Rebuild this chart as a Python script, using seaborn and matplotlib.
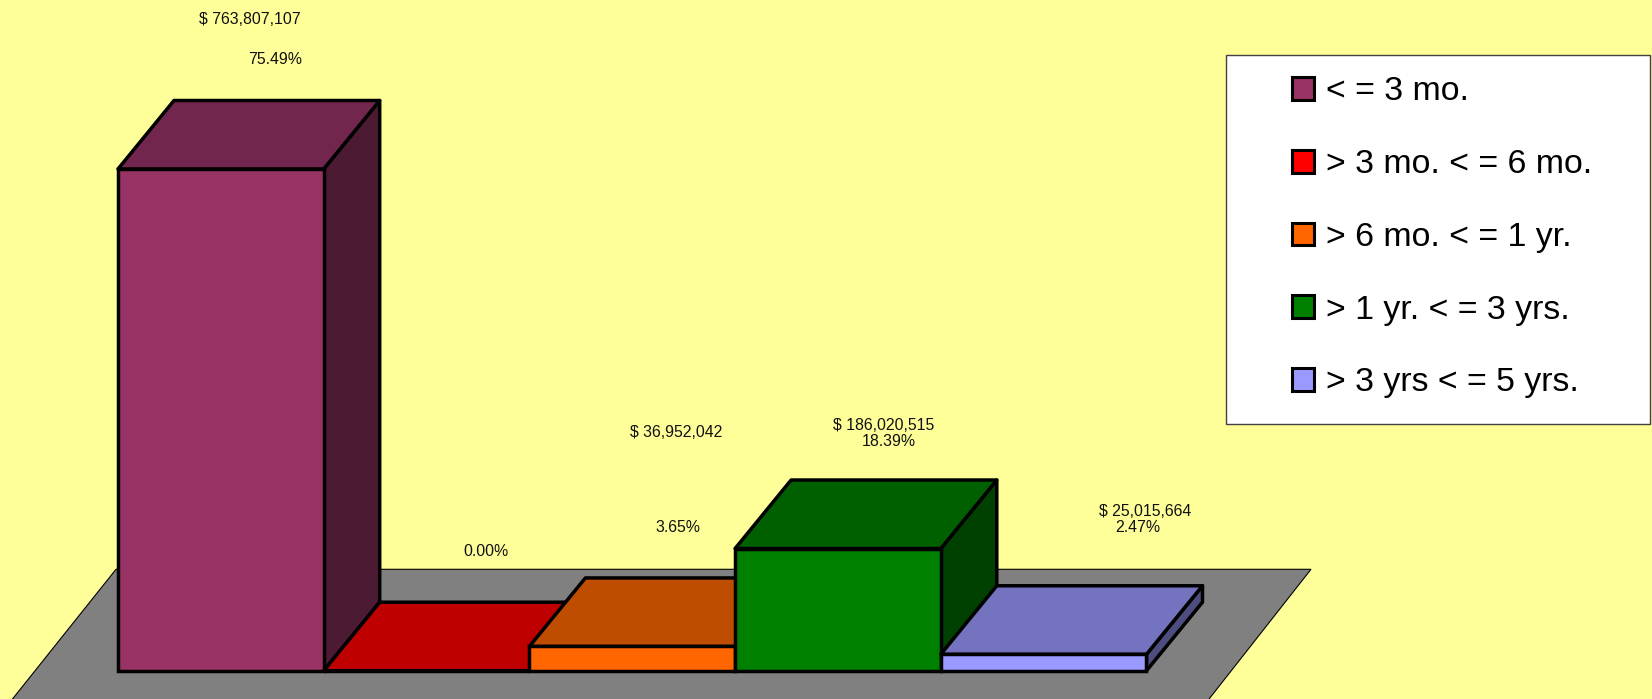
import matplotlib
matplotlib.use("Agg")
import matplotlib.pyplot as plt
from matplotlib.patches import Patch, Polygon, Rectangle
import seaborn as sns
import pandas as pd
from matplotlib.colors import to_rgb

# ---- data ----
categories = ["< = 3 mo.", "> 3 mo. < = 6 mo.", "> 6 mo. < = 1 yr.", "> 1 yr. < = 3 yrs.", "> 3 yrs < = 5 yrs."]
amounts = [763807107, 0, 36952042, 186020515, 25015664]
amount_labels = ["$ 763,807,107", "", "$ 36,952,042", "$ 186,020,515", "$ 25,015,664"]
percent_labels = ["75.49%", "0.00%", "3.65%", "18.39%", "2.47%"]
colors = ["#993366", "#FF0000", "#FF6600", "#008000", "#9999FF"]

# ---- layout (pixels of the 1652x699 figure) ----
W, H = 1652, 699
BASE_Y, TOP_Y = 670.7, 169.0
LEFT_X, BAR_W = 118.0, 205.7
DEPTH_X, DEPTH_Y = 56.0, 68.5
EDGE = 2.5
amount_pos = [(250, 20), None, (676, 432), (884, 426), (1145, 512)]
percent_pos = [(275, 60), (486, 552), (678, 528), (889, 441), (1138, 528)]
floor_px = [(116, 569.3), (1311, 569.3), (1200.4, 710), (3.7, 710)]

BG = "#FFFF99"
sns.set_style("white")
plt.rcParams["font.family"] = ["Liberation Sans", "DejaVu Sans"]

fig = plt.figure(figsize=(W / 100, H / 100), dpi=100, facecolor=BG)
ax = fig.add_axes([0, 0, 1, 1])
ax.patch.set_alpha(0)

def fx(p):
    return (p[0] / W, 1 - p[1] / H)

df = pd.DataFrame({"category": categories, "amount": amounts})
sns.barplot(data=df, x="category", y="amount", hue="category", order=categories,
            hue_order=categories, palette=colors, saturation=1, width=1, dodge=False,
            edgecolor="black", linewidth=EDGE, legend=False, ax=ax)

y_per_px = amounts[0] / (BASE_Y - TOP_Y)
ax.set_xlim(-0.5 - LEFT_X / BAR_W, -0.5 + (W - LEFT_X) / BAR_W)
ax.set_ylim(-(H - BASE_Y) * y_per_px, BASE_Y * y_per_px)
ax.set_axis_off()

# floor
fig.add_artist(Polygon([fx(p) for p in floor_px], closed=True, transform=fig.transFigure,
                       facecolor="#808080", edgecolor="black", linewidth=0.8, zorder=-1))

# 3-D faces of each bar, built from the bars seaborn drew
dx = DEPTH_X / BAR_W
dy = DEPTH_Y * y_per_px
bars = sorted([p for p in ax.patches], key=lambda p: p.get_x())
for i, (bar, col) in enumerate(zip(bars, colors)):
    x0, x1 = bar.get_x(), bar.get_x() + bar.get_width()
    h = bar.get_height()
    rgb = to_rgb(col)
    top = tuple(c * 0.75 for c in rgb)
    side = tuple(c * 0.5 for c in rgb)
    bar.set_zorder(3 + i + 0.5)
    bar.set_joinstyle("miter")
    ax.add_patch(Polygon([(x1, 0), (x1 + dx, dy), (x1 + dx, h + dy), (x1, h)], closed=True,
                         facecolor=side, edgecolor="black", linewidth=EDGE, zorder=3 + i,
                         joinstyle="round"))
    ax.add_patch(Polygon([(x0, h), (x0 + dx, h + dy), (x1 + dx, h + dy), (x1, h)], closed=True,
                         facecolor=top, edgecolor="black", linewidth=EDGE, zorder=3 + i + 0.2,
                         joinstyle="round"))

# value labels
for txt, pos in list(zip(amount_labels, amount_pos)) + list(zip(percent_labels, percent_pos)):
    if pos is None:
        continue
    fig.text(*fx(pos), txt, ha="center", va="center", fontsize=11.4, color="#111111", zorder=20)

# legend
lx0, ly0, lx1, ly1 = 1226, 54.7, 1650, 424
fig.add_artist(Rectangle(fx((lx0, ly1)), (lx1 - lx0) / W, (ly1 - ly0) / H, transform=fig.transFigure,
                         facecolor="white", edgecolor="#404040", linewidth=1.0, zorder=15))
handles = [Patch(facecolor=c, edgecolor="black", linewidth=2.2) for c in colors]
leg = fig.legend(handles, categories, loc="upper left", bbox_to_anchor=fx((1292, 76.5)),
                 bbox_transform=fig.transFigure, frameon=False, fontsize=24.4, labelcolor="black",
                 borderpad=0, borderaxespad=0, handlelength=0.65, handleheight=0.65,
                 handletextpad=0.34, labelspacing=1.23)
leg.set_zorder(16)

fig.savefig("out.png", dpi=100, facecolor=BG)
